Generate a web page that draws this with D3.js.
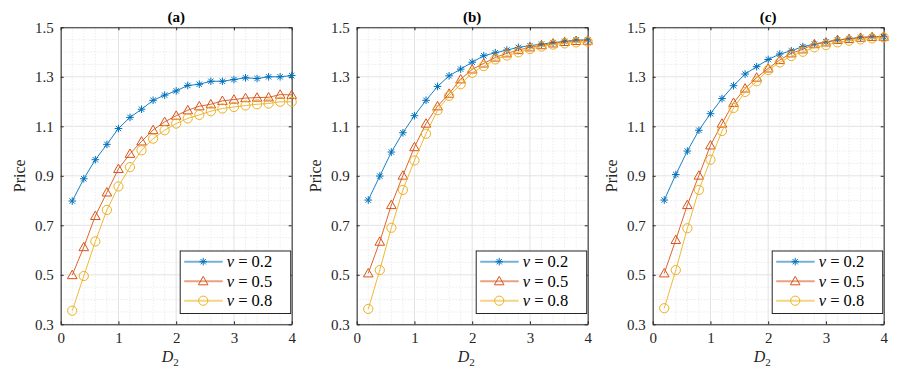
<!DOCTYPE html>
<html>

<head>
  <script src="https://cdn.jsdelivr.net/npm/d3@7"></script>
  <style>
    body {
      margin: 0;
      background: white;
    }
  </style>
</head>

<body>
  <script>
    const xs = [0.2, 0.4, 0.6, 0.8, 1.0, 1.2, 1.4, 1.6, 1.8, 2.0, 2.2, 2.4, 2.6, 2.8, 3.0, 3.2, 3.4, 3.6, 3.8, 4.0]

    const titles = ['(a)', '(b)', '(c)']
    const nus = ['0.2', '0.5', '0.8']
    const xTicks = [0, 1, 2, 3, 4]
    const yTicks = [0.3, 0.5, 0.7, 0.9, 1.1, 1.3, 1.5]

    const a_nu02 = [0.798, 0.888, 0.965, 1.027, 1.091, 1.136, 1.169, 1.205, 1.226, 1.243, 1.265, 1.270, 1.282, 1.282, 1.289, 1.296, 1.293, 1.300, 1.300, 1.305]
    const a_nu05 = [0.499, 0.612, 0.738, 0.833, 0.928, 0.989, 1.039, 1.085, 1.118, 1.143, 1.165, 1.181, 1.189, 1.203, 1.208, 1.214, 1.216, 1.217, 1.228, 1.227]
    const a_nu08 = [0.355, 0.495, 0.635, 0.762, 0.857, 0.935, 1.003, 1.050, 1.084, 1.111, 1.132, 1.146, 1.161, 1.172, 1.178, 1.184, 1.189, 1.192, 1.199, 1.199]

    const b_nu02 = [0.802, 0.899, 0.996, 1.074, 1.143, 1.205, 1.261, 1.304, 1.331, 1.359, 1.385, 1.397, 1.408, 1.419, 1.426, 1.432, 1.438, 1.443, 1.449, 1.449]
    const b_nu05 = [0.506, 0.634, 0.782, 0.901, 1.016, 1.111, 1.181, 1.232, 1.290, 1.330, 1.354, 1.378, 1.395, 1.408, 1.419, 1.428, 1.435, 1.441, 1.445, 1.446]
    const b_nu08 = [0.362, 0.519, 0.690, 0.843, 0.962, 1.070, 1.165, 1.223, 1.270, 1.316, 1.343, 1.370, 1.386, 1.399, 1.412, 1.422, 1.430, 1.435, 1.439, 1.442]

    const c_nu02 = [0.802, 0.905, 1.000, 1.084, 1.151, 1.212, 1.264, 1.311, 1.341, 1.370, 1.392, 1.405, 1.422, 1.432, 1.441, 1.449, 1.454, 1.459, 1.462, 1.462]
    const c_nu05 = [0.506, 0.641, 0.782, 0.901, 1.023, 1.111, 1.195, 1.253, 1.297, 1.334, 1.368, 1.395, 1.411, 1.432, 1.439, 1.449, 1.453, 1.458, 1.461, 1.462]
    const c_nu08 = [0.365, 0.519, 0.688, 0.843, 0.965, 1.081, 1.174, 1.239, 1.282, 1.327, 1.358, 1.384, 1.401, 1.419, 1.428, 1.439, 1.446, 1.451, 1.455, 1.459]

    const panels = [
      [a_nu02, a_nu05, a_nu08],
      [b_nu02, b_nu05, b_nu08],
      [c_nu02, c_nu05, c_nu08]
    ]

    const colors = ['#0072BD', '#D95319', '#EDB120']
    const markers = ['star', 'tri', 'circ']
    const axisColor = '#262626'
    const serif = '"Liberation Serif", "Times New Roman", Times, "DejaVu Serif", serif'

    const W = 897, H = 373
    const svg = d3.select('body').append('svg')
      .attr('width', W)
      .attr('height', H)
      .attr('font-family', serif)

    const plotW = 231
    const plotTop = 27.3, plotBottom = 324.3
    const lefts = [60.7, 356.7, 652.7]

    function drawMarker(g, kind, color, x, y) {
      if (kind === 'star') {
        const r = 3.8
        let d = ''
        for (let k = 0; k < 4; k++) {
          const a = k * Math.PI / 4
          d += `M${x - r * Math.cos(a)},${y - r * Math.sin(a)}L${x + r * Math.cos(a)},${y + r * Math.sin(a)}`
        }
        g.append('path').attr('d', d).attr('stroke', color).attr('stroke-width', 1).attr('fill', 'none')
      } else if (kind === 'tri') {
        const s = 4.8
        g.append('path')
          .attr('d', `M${x},${y - s}L${x + s},${y + s * 0.75}L${x - s},${y + s * 0.75}Z`)
          .attr('stroke', color).attr('stroke-width', 1).attr('fill', 'none')
      } else {
        g.append('circle').attr('cx', x).attr('cy', y).attr('r', 4.6)
          .attr('stroke', color).attr('stroke-width', 1).attr('fill', 'none')
      }
    }

    panels.forEach((series, p) => {
      const left = lefts[p]
      const x = d3.scaleLinear().domain([0, 4]).range([left, left + plotW])
      const y = d3.scaleLinear().domain([0.3, 1.5]).range([plotBottom, plotTop])
      const g = svg.append('g')

      // minor grid
      const xMinor = d3.range(0, 4.001, 0.2).filter(v => Math.abs(v - Math.round(v)) > 1e-6)
      const yMinor = d3.range(0.3, 1.5001, 0.05).filter(v => yTicks.every(t => Math.abs(t - v) > 1e-6))
      g.selectAll('.xminor').data(xMinor).join('line')
        .attr('x1', d => x(d)).attr('x2', d => x(d)).attr('y1', plotTop).attr('y2', plotBottom)
        .attr('stroke', '#dcdcdc').attr('stroke-width', 0.8).attr('stroke-dasharray', '1,2')
      g.selectAll('.yminor').data(yMinor).join('line')
        .attr('y1', d => y(d)).attr('y2', d => y(d)).attr('x1', left).attr('x2', left + plotW)
        .attr('stroke', '#dcdcdc').attr('stroke-width', 0.8).attr('stroke-dasharray', '1,2')

      // major grid
      g.selectAll('.xmajor').data(xTicks).join('line')
        .attr('x1', d => x(d)).attr('x2', d => x(d)).attr('y1', plotTop).attr('y2', plotBottom)
        .attr('stroke', '#e3e3e3').attr('stroke-width', 1)
      g.selectAll('.ymajor').data(yTicks).join('line')
        .attr('y1', d => y(d)).attr('y2', d => y(d)).attr('x1', left).attr('x2', left + plotW)
        .attr('stroke', '#e3e3e3').attr('stroke-width', 1)

      // axes with inward ticks
      const fmt = d3.format('.1f')
      const ax = (gen, tr) => svg.append('g').attr('transform', tr).call(gen)
      const styleAxis = sel => {
        sel.attr('font-family', serif)
        sel.select('.domain').attr('stroke', axisColor)
        sel.selectAll('.tick line').attr('stroke', axisColor)
        sel.selectAll('text').attr('fill', axisColor).style('font-size', '15px').style('font-family', serif)
      }
      ax(d3.axisBottom(x).tickValues(xTicks).tickSizeInner(-3).tickSizeOuter(0).tickPadding(8).tickFormat(d3.format('d')),
        `translate(0,${plotBottom})`).call(styleAxis)
      ax(d3.axisTop(x).tickValues(xTicks).tickSizeInner(-3).tickSizeOuter(0).tickFormat(''),
        `translate(0,${plotTop})`).call(styleAxis)
      ax(d3.axisLeft(y).tickValues(yTicks).tickSizeInner(-3).tickSizeOuter(0).tickPadding(7).tickFormat(fmt),
        `translate(${left},0)`).call(styleAxis)
      ax(d3.axisRight(y).tickValues(yTicks).tickSizeInner(-3).tickSizeOuter(0).tickFormat(''),
        `translate(${left + plotW},0)`).call(styleAxis)

      // series
      const line = d3.line().x((d, i) => x(xs[i])).y(d => y(d))
      series.forEach((vals, s) => {
        const sg = svg.append('g')
        sg.append('path').attr('d', line(vals)).attr('fill', 'none')
          .attr('stroke', colors[s]).attr('stroke-width', 0.9)
        vals.forEach((v, i) => drawMarker(sg, markers[s], colors[s], x(xs[i]), y(v)))
      })

      // title
      svg.append('text').attr('x', left + plotW / 2).attr('y', 22)
        .attr('text-anchor', 'middle').style('font-size', '15px').style('font-weight', 'bold')
        .style('font-family', serif).attr('fill', '#000').text(titles[p])

      // axis labels
      const xl = svg.append('text').attr('x', left + plotW / 2 - 6).attr('y', 362)
        .attr('text-anchor', 'middle').style('font-size', '16px').style('font-family', serif).attr('fill', axisColor)
      xl.append('tspan').style('font-style', 'italic').text('D')
      xl.append('tspan').attr('dy', 4).style('font-size', '11px').text('2')

      svg.append('text').attr('transform', `translate(${left - 36},${(plotTop + plotBottom) / 2}) rotate(-90)`)
        .attr('text-anchor', 'middle').style('font-size', '16px').style('font-family', serif)
        .attr('fill', axisColor).text('Price')

      // legend
      const lx = left + plotW - 111.5, ly = 251, lw = 110.5, lh = 62.5
      const lg = svg.append('g')
      lg.append('rect').attr('x', lx).attr('y', ly).attr('width', lw).attr('height', lh)
        .attr('fill', 'white').attr('stroke', axisColor).attr('stroke-width', 1)
      nus.forEach((nu, s) => {
        const cy = ly + 10.7 + s * 19.5
        lg.append('line').attr('x1', lx + 4).attr('x2', lx + 42.5).attr('y1', cy).attr('y2', cy)
          .attr('stroke', colors[s]).attr('stroke-width', 2).attr('stroke-opacity', 0.55)
        drawMarker(lg, markers[s], colors[s], lx + 23, cy)
        const t = lg.append('text').attr('x', lx + 46.5).attr('y', cy + 5.5)
          .style('font-size', '16.5px').style('font-family', serif).attr('fill', '#000')
        t.append('tspan').style('font-style', 'italic').text('ν')
        t.append('tspan').text(` = ${nu}`)
      })
    })
  </script>
</body>

</html>
